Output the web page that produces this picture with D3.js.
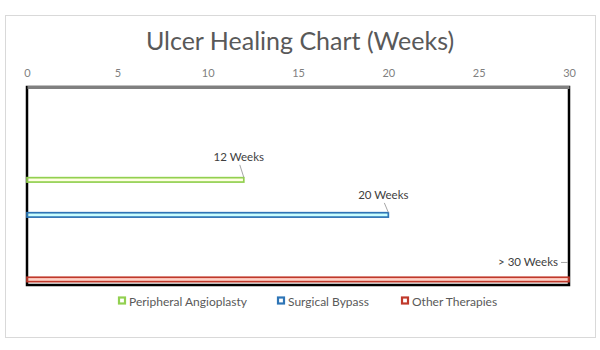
<!DOCTYPE html>
<html>
<head>
<meta charset="utf-8">
<script src="https://cdn.jsdelivr.net/npm/d3@7"></script>
<style>
  html, body { margin: 0; padding: 0; background: #fff; }
  svg { display: block; font-family: Lato, "Open Sans", sans-serif; }
</style>
</head>
<body>
<svg id="chart" width="600" height="350"></svg>
<script>
// Treatment categories, healing time (weeks) and the text shown beside each bar
const categories = ["Peripheral Angioplasty", "Surgical Bypass", "Other Therapies"];
const weeks = [12, 20, 30];
const valueLabels = ["12 Weeks", "20  Weeks", "> 30 Weeks"];
const colors = ["#92D050", "#2E75B6", "#C0392B"];
const tickValues = [0, 5, 10, 15, 20, 25, 30];

const svg = d3.select("#chart");

// Chart frame
svg.append("rect")
  .attr("x", 5.5).attr("y", 15.5)
  .attr("width", 590).attr("height", 322)
  .attr("fill", "#fff").attr("stroke", "#d9d9d9").attr("stroke-width", 1);

// Title
svg.append("text")
  .attr("x", 300).attr("y", 50)
  .attr("text-anchor", "middle")
  .attr("font-size", 25)
  .attr("fill", "#595959")
  .text("Ulcer Healing Chart (Weeks)");

// Plot area
const plot = { left: 27, right: 569, top: 87, bottom: 285 };

const x = d3.scaleLinear().domain([0, 30]).range([plot.left, plot.right]);
// Lanes for each treatment within the plot area (fraction of its height from the top)
const lane = d3.scaleOrdinal().domain(categories).range([0.469, 0.646, 0.972]);
const yOf = c => plot.top + lane(c) * (plot.bottom - plot.top);

// Plot border: dark sides/bottom
svg.append("rect")
  .attr("x", plot.left).attr("y", plot.top)
  .attr("width", plot.right - plot.left).attr("height", plot.bottom - plot.top)
  .attr("fill", "none").attr("stroke", "#000").attr("stroke-width", 2.5);

// Bars drawn as hollow strips
const bars = svg.append("g");
categories.forEach((c, i) => {
  const yc = yOf(c);
  bars.append("rect")
    .attr("x", x(0))
    .attr("y", yc - 2.2)
    .attr("width", x(weeks[i]) - x(0))
    .attr("height", 4.4)
    .attr("fill", d3.color(colors[i]).brighter(2.2).formatHex())
    .attr("fill-opacity", 0.35)
    .attr("stroke", colors[i])
    .attr("stroke-width", 1.7);
});

// Top axis (drawn over the plot border)
const axis = d3.axisTop(x).tickValues(tickValues).tickSize(0).tickPadding(10);
const gAxis = svg.append("g")
  .attr("transform", `translate(0,${plot.top})`)
  .call(axis);
gAxis.select(".domain")
  .attr("stroke", "#808080").attr("stroke-width", 3);
gAxis.selectAll("text")
  .attr("font-size", 11)
  .attr("fill", "#7f7f7f")
  .attr("font-family", "Lato, 'Open Sans', sans-serif");

// Data labels with leader lines
const labels = svg.append("g")
  .attr("font-size", 11.5)
  .attr("fill", "#404040");

// first two labels sit above the end of their bar
const labelRise = [19, 16];
[0, 1].forEach(i => {
  const c = categories[i];
  const ex = x(weeks[i]);
  const yc = yOf(c);
  labels.append("text")
    .attr("x", ex - 5).attr("y", yc - labelRise[i])
    .attr("text-anchor", "middle")
    .text(valueLabels[i]);
  labels.append("line")
    .attr("x1", ex - 4).attr("y1", yc - labelRise[i] + 4)
    .attr("x2", ex).attr("y2", yc - 2.5)
    .attr("stroke", "#a6a6a6").attr("stroke-width", 1);
});

// last label sits to the left of the plot edge
{
  const i = 2;
  const ex = x(weeks[i]);
  const yc = yOf(categories[i]);
  labels.append("text")
    .attr("x", ex - 11).attr("y", yc - 13)
    .attr("text-anchor", "end")
    .text(valueLabels[i]);
  labels.append("line")
    .attr("x1", ex - 8).attr("y1", yc - 17)
    .attr("x2", ex - 1).attr("y2", yc - 17)
    .attr("stroke", "#a6a6a6").attr("stroke-width", 1);
}

// Legend
const legend = svg.append("g").attr("transform", "translate(0,301)");
const legendX = [118, 277, 401];
categories.forEach((c, i) => {
  const g = legend.append("g").attr("transform", `translate(${legendX[i]},0)`);
  g.append("rect")
    .attr("x", 1).attr("y", -3.5)
    .attr("width", 6).attr("height", 6)
    .attr("fill", "#fff")
    .attr("stroke", colors[i]).attr("stroke-width", 2.2);
  g.append("text")
    .attr("x", 11).attr("y", 4.5)
    .attr("font-size", 12)
    .attr("fill", "#595959")
    .text(c);
});
</script>
</body>
</html>
